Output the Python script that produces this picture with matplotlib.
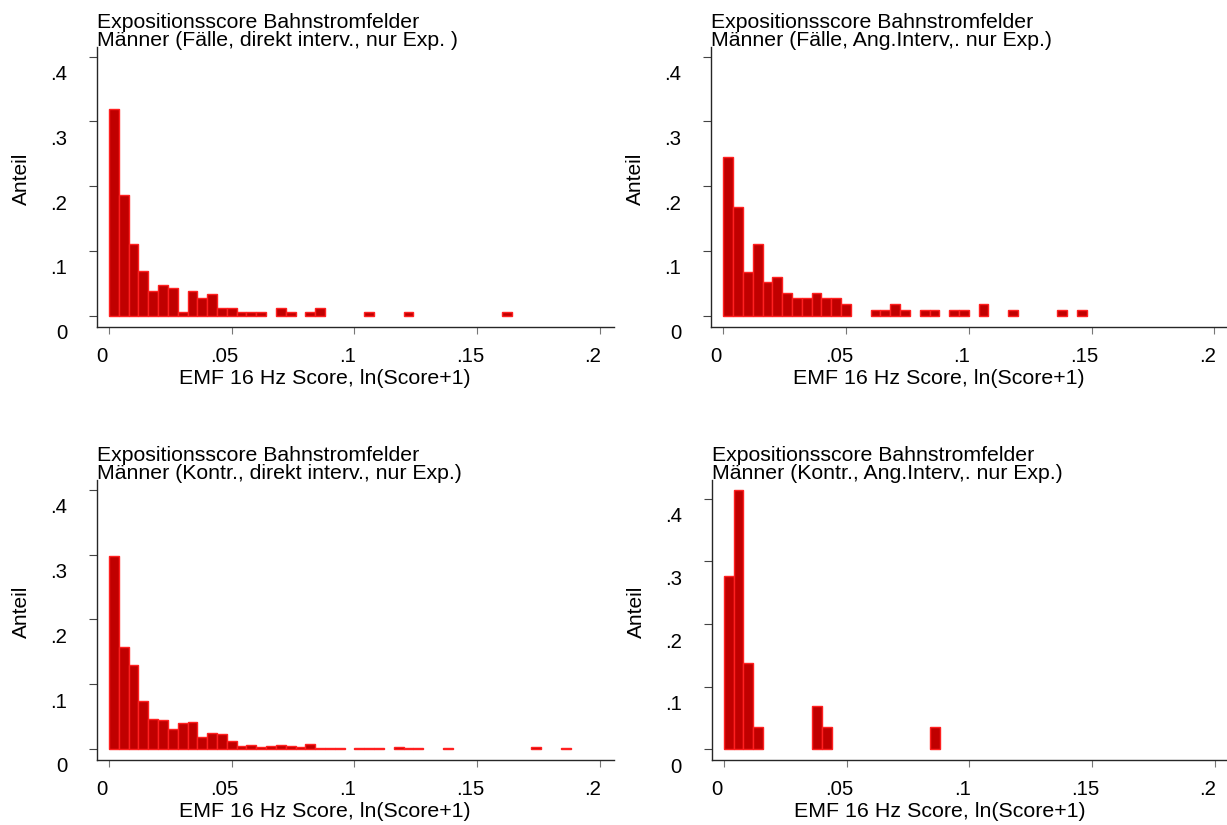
import matplotlib
matplotlib.use("Agg")
import matplotlib.pyplot as plt
from matplotlib.transforms import ScaledTranslation
import numpy as np

plt.rcParams['font.family'] = ['Liberation Sans', 'DejaVu Sans']

# histogram data: fraction per bin, bin width 0.004 starting at 0
bin_width = 0.004

cases_direct = [0.319, 0.186, 0.111, 0.069, 0.038, 0.048, 0.043, 0.006, 0.038, 0.028,
                0.033, 0.012, 0.012, 0.006, 0.006, 0.006, 0, 0.012, 0.006, 0,
                0.006, 0.012, 0, 0, 0, 0, 0.006, 0, 0, 0,
                0.006, 0, 0, 0, 0, 0, 0, 0, 0, 0,
                0.006]
cases_ang = [0.245, 0.168, 0.068, 0.110, 0.052, 0.060, 0.035, 0.027, 0.027, 0.035,
             0.027, 0.027, 0.018, 0, 0, 0.009, 0.009, 0.018, 0.009, 0,
             0.009, 0.009, 0, 0.009, 0.009, 0, 0.018, 0, 0, 0.009,
             0, 0, 0, 0, 0.009, 0, 0.009]
controls_direct = [0.298, 0.157, 0.130, 0.074, 0.047, 0.045, 0.031, 0.040, 0.042, 0.019,
                   0.025, 0.023, 0.013, 0.004, 0.006, 0.003, 0.004, 0.006, 0.004, 0.003,
                   0.008, 0.002, 0.002, 0.002, 0, 0.002, 0.002, 0.002, 0, 0.003,
                   0.002, 0.002, 0, 0, 0.002, 0, 0, 0, 0, 0,
                   0, 0, 0, 0.003, 0, 0, 0.002]
controls_ang = [0.276, 0.414, 0.138, 0.035, 0, 0, 0, 0, 0, 0.069,
                0.035, 0, 0, 0, 0, 0, 0, 0, 0, 0,
                0, 0.035]

title_top = "Expositionsscore Bahnstromfelder"
subtitles = ["Männer (Fälle, direkt interv., nur Exp. )",
             "Männer (Fälle, Ang.Interv,. nur Exp.)",
             "Männer (Kontr., direkt interv., nur Exp.)",
             "Männer (Kontr., Ang.Interv,. nur Exp.)"]
series = [cases_direct, cases_ang, controls_direct, controls_ang]

xticks = [0, 0.05, 0.1, 0.15, 0.2]
xticklabels = ["0", ".05", ".1", ".15", ".2"]
yticks = [0, 0.1, 0.2, 0.3, 0.4]
yticklabels = ["0", ".1", ".2", ".3", ".4"]

W, H = 1227, 825
fig = plt.figure(figsize=(W / 100, H / 100), dpi=100)

# axes boxes in pixels: left, top
boxes = [(96.7, 46.7), (711.0, 46.7), (96.7, 480.0), (711.5, 480.0)]
box_w, box_h = 517.3, 280.0

spine_col = '#262626'
fs_tick = 14.7
fs_title = 15.3

for i, (vals, sub) in enumerate(zip(series, subtitles)):
    left, top = boxes[i]
    ax = fig.add_axes([left / W, 1 - (top + box_h) / H, box_w / W, box_h / H])

    edges = np.arange(len(vals)) * bin_width
    vals = np.array(vals)
    keep = vals > 0
    ax.bar(edges[keep], vals[keep], width=bin_width, align='edge',
           color='#c00000', edgecolor='#ff2020', linewidth=1.0)

    ax.set_xlim(-0.005, 0.2057)
    if max(vals) > 0.4:
        ax.set_ylim(-0.0171, 0.430)
    else:
        ax.set_ylim(-0.017, 0.4154)

    for s in ['top', 'right']:
        ax.spines[s].set_visible(False)
    for s in ['left', 'bottom']:
        ax.spines[s].set_color(spine_col)
        ax.spines[s].set_linewidth(1.0)

    ax.set_xticks(xticks)
    ax.set_xticklabels(xticklabels, fontsize=fs_tick)
    ax.set_yticks(yticks)
    ax.set_yticklabels(yticklabels, fontsize=fs_tick)
    ax.tick_params(axis='y', length=5.8, width=0.8, color='#444444', pad=15.5)
    ax.tick_params(axis='x', length=5.0, width=0.8, color='#777777', pad=9.5)

    # shift tick labels like the original rendering
    for lab in ax.get_yticklabels():
        lab.set_transform(lab.get_transform() + ScaledTranslation(0, -0.16, fig.dpi_scale_trans))
    for lab in ax.get_xticklabels():
        lab.set_transform(lab.get_transform() + ScaledTranslation(-0.07, 0, fig.dpi_scale_trans))

    ax.set_ylabel("Anteil", fontsize=15)
    ax.yaxis.set_label_coords(-0.146, 0.5275)
    ax.set_xlabel("EMF 16 Hz Score, ln(Score+1)", fontsize=15.4)
    ax.xaxis.set_label_coords(0.441, -0.184)
    ax.xaxis.label.set_va('center')
    ax.yaxis.label.set_va('center')

    ax.text(0.0, 1 + 19.0 / box_h, title_top, transform=ax.transAxes,
            fontsize=fs_title, ha='left', va='baseline')
    ax.text(0.0, 1 + 1.0 / box_h, sub, transform=ax.transAxes,
            fontsize=fs_title, ha='left', va='baseline')

fig.savefig("out.png", dpi=100)
